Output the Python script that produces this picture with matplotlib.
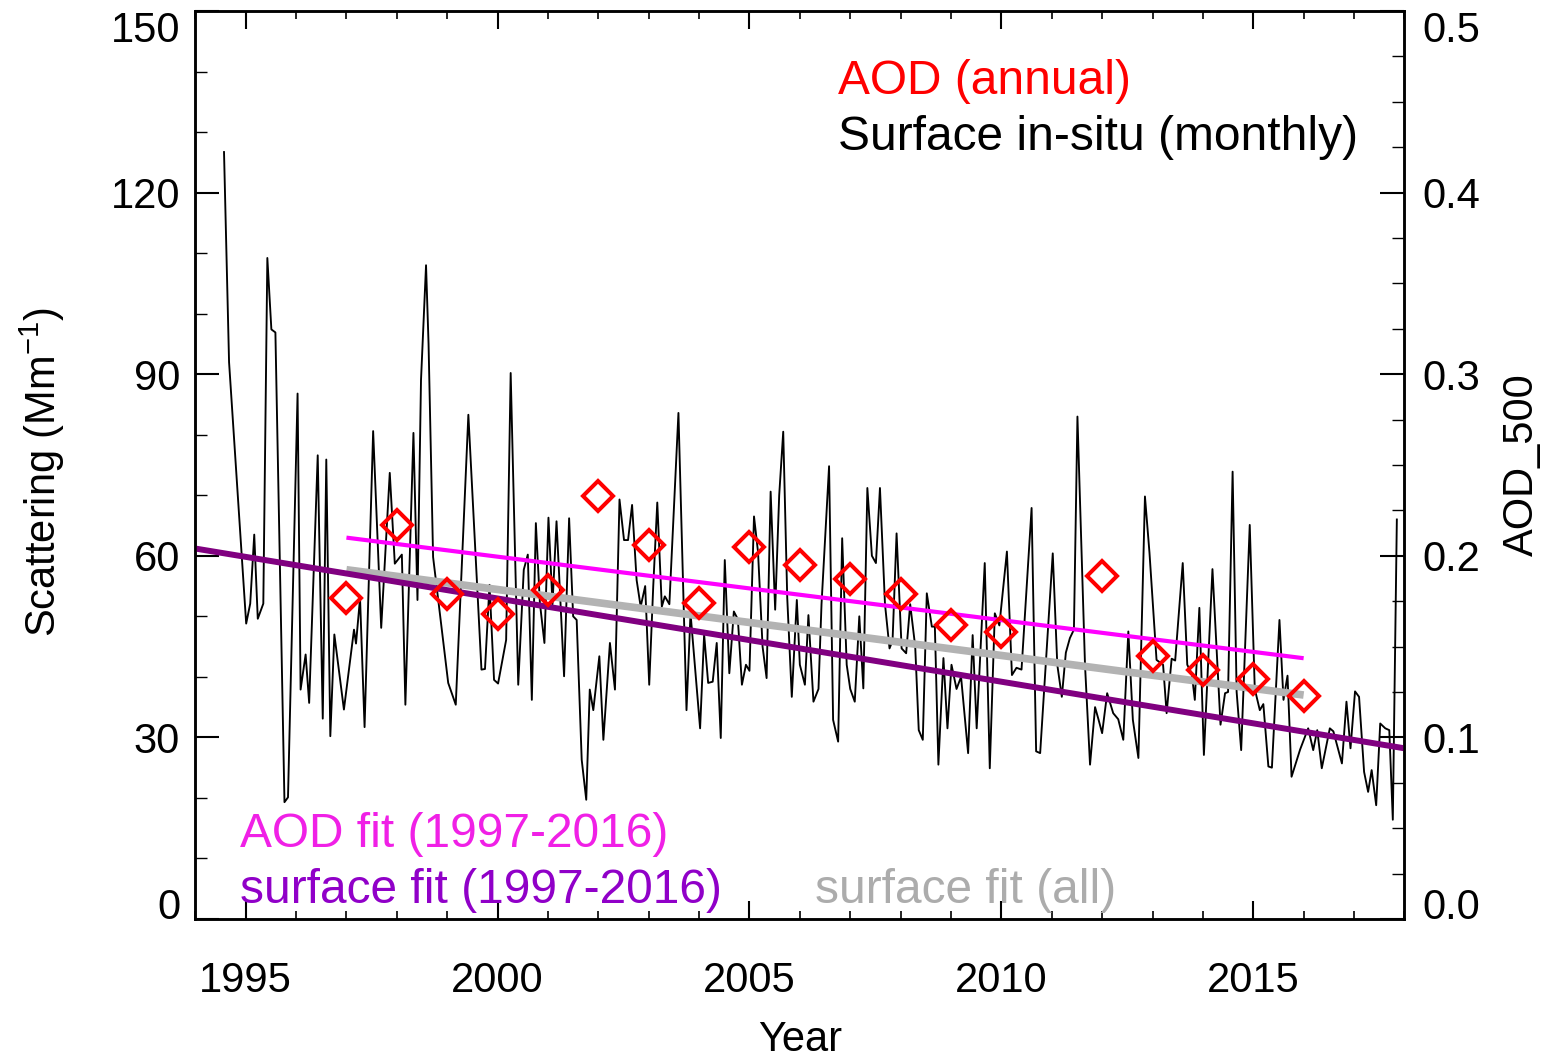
import matplotlib
matplotlib.use("Agg")
import matplotlib.pyplot as plt
from matplotlib.ticker import MultipleLocator

plt.rcParams['font.family'] = ['Liberation Sans', 'DejaVu Sans']
plt.rcParams['mathtext.fontset'] = 'custom'
plt.rcParams['mathtext.rm'] = 'Liberation Sans'

# Monthly surface in-situ scattering (Mm^-1), decimal year
month_year = [
    1994.57, 1994.67, 1995.01, 1995.09, 1995.17, 1995.24, 1995.35, 1995.43, 1995.51, 1995.59,
    1995.77, 1995.84, 1996.03, 1996.09, 1996.19, 1996.26, 1996.43, 1996.53, 1996.60, 1996.68,
    1996.76, 1996.95, 1997.15, 1997.19, 1997.27, 1997.36, 1997.53, 1997.69, 1997.86, 1997.96,
    1998.10, 1998.17, 1998.33, 1998.41, 1998.48, 1998.58, 1998.63, 1998.72, 1999.02, 1999.17,
    1999.42, 1999.68, 1999.75, 1999.84, 1999.93, 2000.01, 2000.17, 2000.26, 2000.41, 2000.52,
    2000.60, 2000.68, 2000.76, 2000.84, 2000.93, 2001.01, 2001.09, 2001.17, 2001.32, 2001.42,
    2001.50, 2001.57, 2001.67, 2001.76, 2001.83, 2001.90, 2002.02, 2002.10, 2002.23, 2002.33,
    2002.42, 2002.51, 2002.59, 2002.67, 2002.76, 2002.84, 2002.93, 2003.01, 2003.09, 2003.17,
    2003.26, 2003.32, 2003.41, 2003.59, 2003.75, 2003.83, 2004.02, 2004.10, 2004.18, 2004.27,
    2004.35, 2004.43, 2004.51, 2004.60, 2004.69, 2004.77, 2004.85, 2004.93, 2005.00, 2005.09,
    2005.17, 2005.26, 2005.34, 2005.42, 2005.51, 2005.59, 2005.67, 2005.75, 2005.84, 2005.94,
    2006.00, 2006.10, 2006.17, 2006.27, 2006.37, 2006.43, 2006.58, 2006.66, 2006.76, 2006.84,
    2006.93, 2007.00, 2007.09, 2007.18, 2007.26, 2007.34, 2007.43, 2007.51, 2007.59, 2007.69,
    2007.78, 2007.84, 2007.92, 2008.02, 2008.11, 2008.19, 2008.29, 2008.36, 2008.44, 2008.52,
    2008.62, 2008.68, 2008.75, 2008.85, 2008.93, 2009.01, 2009.11, 2009.20, 2009.34, 2009.43,
    2009.51, 2009.67, 2009.77, 2009.87, 2009.96, 2010.11, 2010.21, 2010.30, 2010.40, 2010.60,
    2010.69, 2010.77, 2011.02, 2011.11, 2011.20, 2011.28, 2011.36, 2011.44, 2011.51, 2011.66,
    2011.76, 2011.86, 2011.93, 2012.00, 2012.10, 2012.22, 2012.32, 2012.42, 2012.52, 2012.61,
    2012.72, 2012.85, 2012.94, 2013.08, 2013.21, 2013.28, 2013.38, 2013.45, 2013.60, 2013.69,
    2013.78, 2013.84, 2013.93, 2014.02, 2014.19, 2014.35, 2014.44, 2014.50, 2014.59, 2014.67,
    2014.76, 2014.93, 2015.03, 2015.13, 2015.20, 2015.30, 2015.37, 2015.52, 2015.60, 2015.68,
    2015.76, 2015.93, 2016.09, 2016.19, 2016.27, 2016.36, 2016.52, 2016.59, 2016.76, 2016.85,
    2016.93, 2017.02, 2017.10, 2017.20, 2017.28, 2017.35, 2017.44, 2017.52, 2017.62, 2017.70,
    2017.77, 2017.85,
]
scattering = [
    126.7, 92.0, 48.8, 52.1, 63.5, 49.6, 52.1, 109.2, 97.4, 96.9,
    19.3, 20.1, 86.8, 37.9, 43.7, 35.7, 76.6, 33.1, 75.9, 30.2,
    47.0, 34.6, 47.8, 45.5, 53.0, 31.7, 80.6, 48.1, 73.7, 58.7,
    60.2, 35.4, 80.3, 52.7, 89.0, 108.0, 95.0, 59.8, 39.0, 35.4,
    83.3, 41.2, 41.3, 55.2, 39.5, 38.9, 46.1, 90.2, 38.7, 57.7,
    60.2, 36.2, 65.4, 52.2, 45.6, 66.3, 52.0, 65.7, 40.1, 66.2,
    50.0, 49.4, 26.3, 19.7, 37.9, 34.5, 43.4, 29.6, 45.6, 37.9,
    69.3, 62.6, 62.6, 68.4, 56.0, 51.6, 55.0, 38.7, 55.0, 68.8,
    51.6, 53.3, 52.0, 83.6, 34.5, 50.5, 31.5, 47.0, 39.0, 39.2,
    45.6, 29.9, 59.3, 40.6, 50.8, 49.5, 38.7, 42.0, 41.0, 66.5,
    60.6, 45.0, 39.8, 70.6, 51.1, 70.0, 80.5, 53.0, 36.7, 52.7,
    42.0, 38.7, 50.2, 35.9, 38.0, 52.0, 74.8, 32.9, 29.3, 62.9,
    42.0, 38.0, 35.9, 50.0, 38.1, 71.2, 60.0, 58.8, 71.2, 52.0,
    44.7, 46.0, 63.7, 44.7, 43.9, 52.0, 45.0, 31.2, 29.6, 53.8,
    48.3, 48.3, 25.5, 43.1, 31.5, 42.0, 38.0, 40.0, 27.4, 46.9,
    31.5, 58.8, 24.9, 50.5, 48.5, 60.7, 40.3, 41.5, 41.2, 67.9,
    27.7, 27.4, 60.4, 42.0, 36.7, 44.0, 46.4, 47.8, 83.0, 42.0,
    25.5, 35.0, 32.9, 30.7, 37.3, 34.0, 33.0, 29.6, 47.5, 32.9,
    26.6, 69.8, 60.5, 42.8, 42.0, 34.0, 43.0, 42.7, 58.8, 42.0,
    40.5, 36.2, 51.4, 27.1, 57.8, 32.1, 37.3, 37.5, 73.9, 37.5,
    27.9, 65.1, 38.0, 34.5, 35.5, 25.2, 25.0, 49.4, 36.2, 40.2,
    23.5, 28.0, 31.5, 27.9, 31.2, 24.9, 31.5, 31.0, 25.7, 35.9,
    28.2, 37.6, 36.7, 24.3, 21.0, 24.6, 18.8, 32.3, 31.5, 31.2,
    16.4, 66.0,
]

# Annual AOD at 500 nm (no value for 2011)
aod_year = [1997, 1998, 1999, 2000, 2001, 2002, 2003, 2004, 2005, 2006,
            2007, 2008, 2009, 2010, 2012, 2013, 2014, 2015, 2016]
aod_annual = [0.177, 0.217, 0.179, 0.168, 0.181, 0.233, 0.206, 0.174, 0.205, 0.195,
              0.187, 0.179, 0.162, 0.158, 0.189, 0.145, 0.137, 0.132, 0.123]

# Linear trend lines (end points)
aod_fit_year = [1997, 2016]
aod_fit = [0.210, 0.1436]
surf_fit_year = [1994, 2018]
surf_fit = [61.2, 28.2]
surf_fit_all_year = [1997, 2016]
surf_fit_all = [57.7, 37.0]

# Axis ticks
year_ticks = [1995, 2000, 2005, 2010, 2015]
scat_ticks = [0, 30, 60, 90, 120, 150]
aod_ticks = [0.0, 0.1, 0.2, 0.3, 0.4, 0.5]

W, H = 1556, 1060
fig = plt.figure(figsize=(W / 100, H / 100), dpi=100)
ax = fig.add_axes([195.3 / W, 1 - 919 / H, (1404.4 - 195.3) / W, (919 - 11) / H])

ax.plot(month_year, scattering, color='black', lw=1.35, zorder=2)
ax.plot(surf_fit_all_year, surf_fit_all, color='#b3b3b3', lw=5.5,
        solid_capstyle='butt', zorder=3)
ax.plot(surf_fit_year, surf_fit, color='#800080', lw=4.3,
        solid_capstyle='butt', zorder=4)

ax.set_xlim(1994, 2018)
ax.set_ylim(0, 150)
ax.set_xticks(year_ticks)
ax.set_xticklabels([str(y) for y in year_ticks])
ax.xaxis.set_minor_locator(MultipleLocator(1))
ax.set_yticks(scat_ticks)
ax.set_yticklabels([str(v) for v in scat_ticks])
ax.yaxis.set_minor_locator(MultipleLocator(10))
ax.tick_params(axis='both', which='both', direction='in', labelsize=30,
               colors='black')
ax.tick_params(axis='x', which='both', top=True, bottom=True, pad=30)
ax.tick_params(axis='x', which='major', length=13, width=1.5)
ax.tick_params(axis='x', which='minor', length=6, width=1.2)
ax.tick_params(axis='y', which='both', left=True, right=False, pad=11)
ax.tick_params(axis='y', which='major', length=17, width=1.5)
ax.tick_params(axis='y', which='minor', length=8.5, width=1.0)
for sp in ax.spines.values():
    sp.set_linewidth(1.8)

ax2 = ax.twinx()
ax2.plot(aod_fit_year, aod_fit, color='#ff00ff', lw=3.0,
         solid_capstyle='butt', zorder=3)
ax2.plot(aod_year, aod_annual, linestyle='none', marker='D', markersize=15.5,
         markerfacecolor='none', markeredgecolor='#ff0000',
         markeredgewidth=2.9, zorder=5)
ax2.set_ylim(0, 0.5)
ax2.set_yticks(aod_ticks)
ax2.set_yticklabels([f'{v:.1f}' for v in aod_ticks])
ax2.yaxis.set_minor_locator(MultipleLocator(0.025))
ax2.tick_params(axis='y', which='both', direction='in', labelsize=30, pad=13)
ax2.tick_params(axis='y', which='major', length=17, width=1.5)
ax2.tick_params(axis='y', which='minor', length=8.5, width=1.0)
for sp in ax2.spines.values():
    sp.set_linewidth(1.8)

# Keep the end labels inside the frame height
for labs in (ax.get_yticklabels(), ax2.get_yticklabels()):
    labs[0].set_va('baseline')
    labs[-1].set_va('top')

tk = dict(transform=ax.transAxes, fontsize=34.5)
ax.text(0.5316, 0.9086, 'AOD (annual)', color='#ff0000', **tk)
ax.text(0.5316, 0.8470, 'Surface in-situ (monthly)', color='black', **tk)
ax.text(0.037, 0.0793, 'AOD fit (1997-2016)', color='#f020e6', **tk)
ax.text(0.037, 0.0176, 'surface fit (1997-2016)', color='#9000c8', **tk)
ax.text(0.5125, 0.0176, 'surface fit (all)', color='#acacac', **tk)

fig.text(42 / W, 1 - 472 / H, r'Scattering (Mm$^{\mathregular{-1}}$)',
         rotation=90, ha='center', va='center', fontsize=30)
fig.text(1522 / W, 1 - 465 / H, 'AOD_500', rotation=90,
         ha='center', va='center', fontsize=30)
fig.text(800 / W, 1 - 1040 / H, 'Year', ha='center', va='center', fontsize=30)

fig.savefig('out.png', dpi=100)
